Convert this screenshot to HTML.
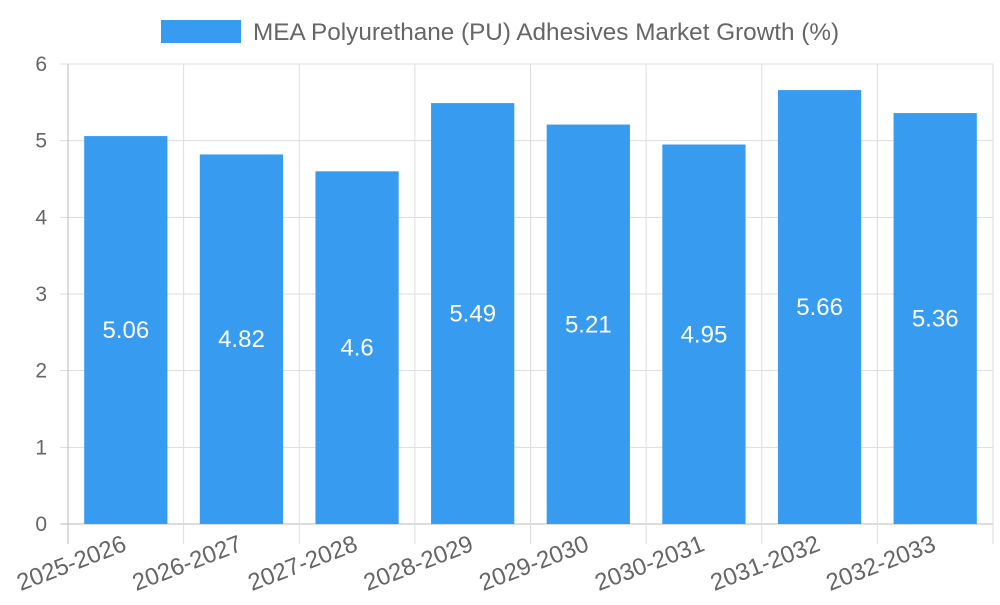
<!DOCTYPE html>
<html><head><meta charset="utf-8"><style>
body{margin:0;background:#fff;}
svg text{font-family:"Liberation Sans",sans-serif;}
</style></head><body>
<svg id="chart" width="1000" height="600" xmlns="http://www.w3.org/2000/svg">
<g id="legend">
<rect x="161" y="20" width="80" height="23" fill="#379cf0"/>
<text x="253" y="40" font-size="24.3" fill="#666">MEA Polyurethane (PU) Adhesives Market Growth (%)</text>
</g>
<g id="grid"></g>
<g id="bars"></g>
<g id="axes"></g>
</svg>
<script>
const categories=["2025-2026","2026-2027","2027-2028","2028-2029","2029-2030","2030-2031","2031-2032","2032-2033"];
const values=[5.06,4.82,4.6,5.49,5.21,4.95,5.66,5.36];
const valueLabels=["5.06","4.82","4.6","5.49","5.21","4.95","5.66","5.36"];
const yTicks=[0,1,2,3,4,5,6];
const NS="http://www.w3.org/2000/svg";
const L=68,R=993,T=64,B=524,yMax=6;
const bw=(R-L)/categories.length;
const y=v=>B-(B-T)*v/yMax;
const x=i=>L+bw*i;
function mk(tag,attrs,parent,txt){const e=document.createElementNS(NS,tag);for(const k in attrs)e.setAttribute(k,attrs[k]);if(txt!==undefined)e.textContent=txt;parent.appendChild(e);return e;}
const grid=document.getElementById('grid'),bars=document.getElementById('bars'),axes=document.getElementById('axes');
yTicks.forEach(t=>{
 const g=mk('line',{x1:L-8,x2:R,y1:y(t),y2:y(t),stroke:t===0?'#bbb':'#ddd','stroke-width':1},grid);
 
 
 const lb=mk('text',{x:47,y:y(t)+7,'font-size':21,fill:'#666','text-anchor':'end'},axes,String(t));
 
 
});
for(let i=0;i<=categories.length;i++){
 const g=mk('line',{x1:x(i),x2:x(i),y1:T,y2:B+20,stroke:i===0?'#bbb':'#ddd','stroke-width':1},grid);
 
 
}
categories.forEach((c,i)=>{
 const cx=x(i)+bw/2,w=bw*0.72;
 const r=mk('rect',{x:cx-w/2,y:y(values[i]),width:w,height:B-y(values[i]),fill:'#379cf0'},bars);
 
 
 const v=mk('text',{x:cx,y:(y(values[i])+B)/2+8,'font-size':24,fill:'#fff','text-anchor':'middle'},bars,valueLabels[i]);
 
 
 const t=mk('text',{x:cx+2,y:B+26,'font-size':24,fill:'#666','text-anchor':'end',transform:`rotate(-21 ${cx+2} ${B+26})`},axes,c);
 
 
});
</script>
</body></html>
